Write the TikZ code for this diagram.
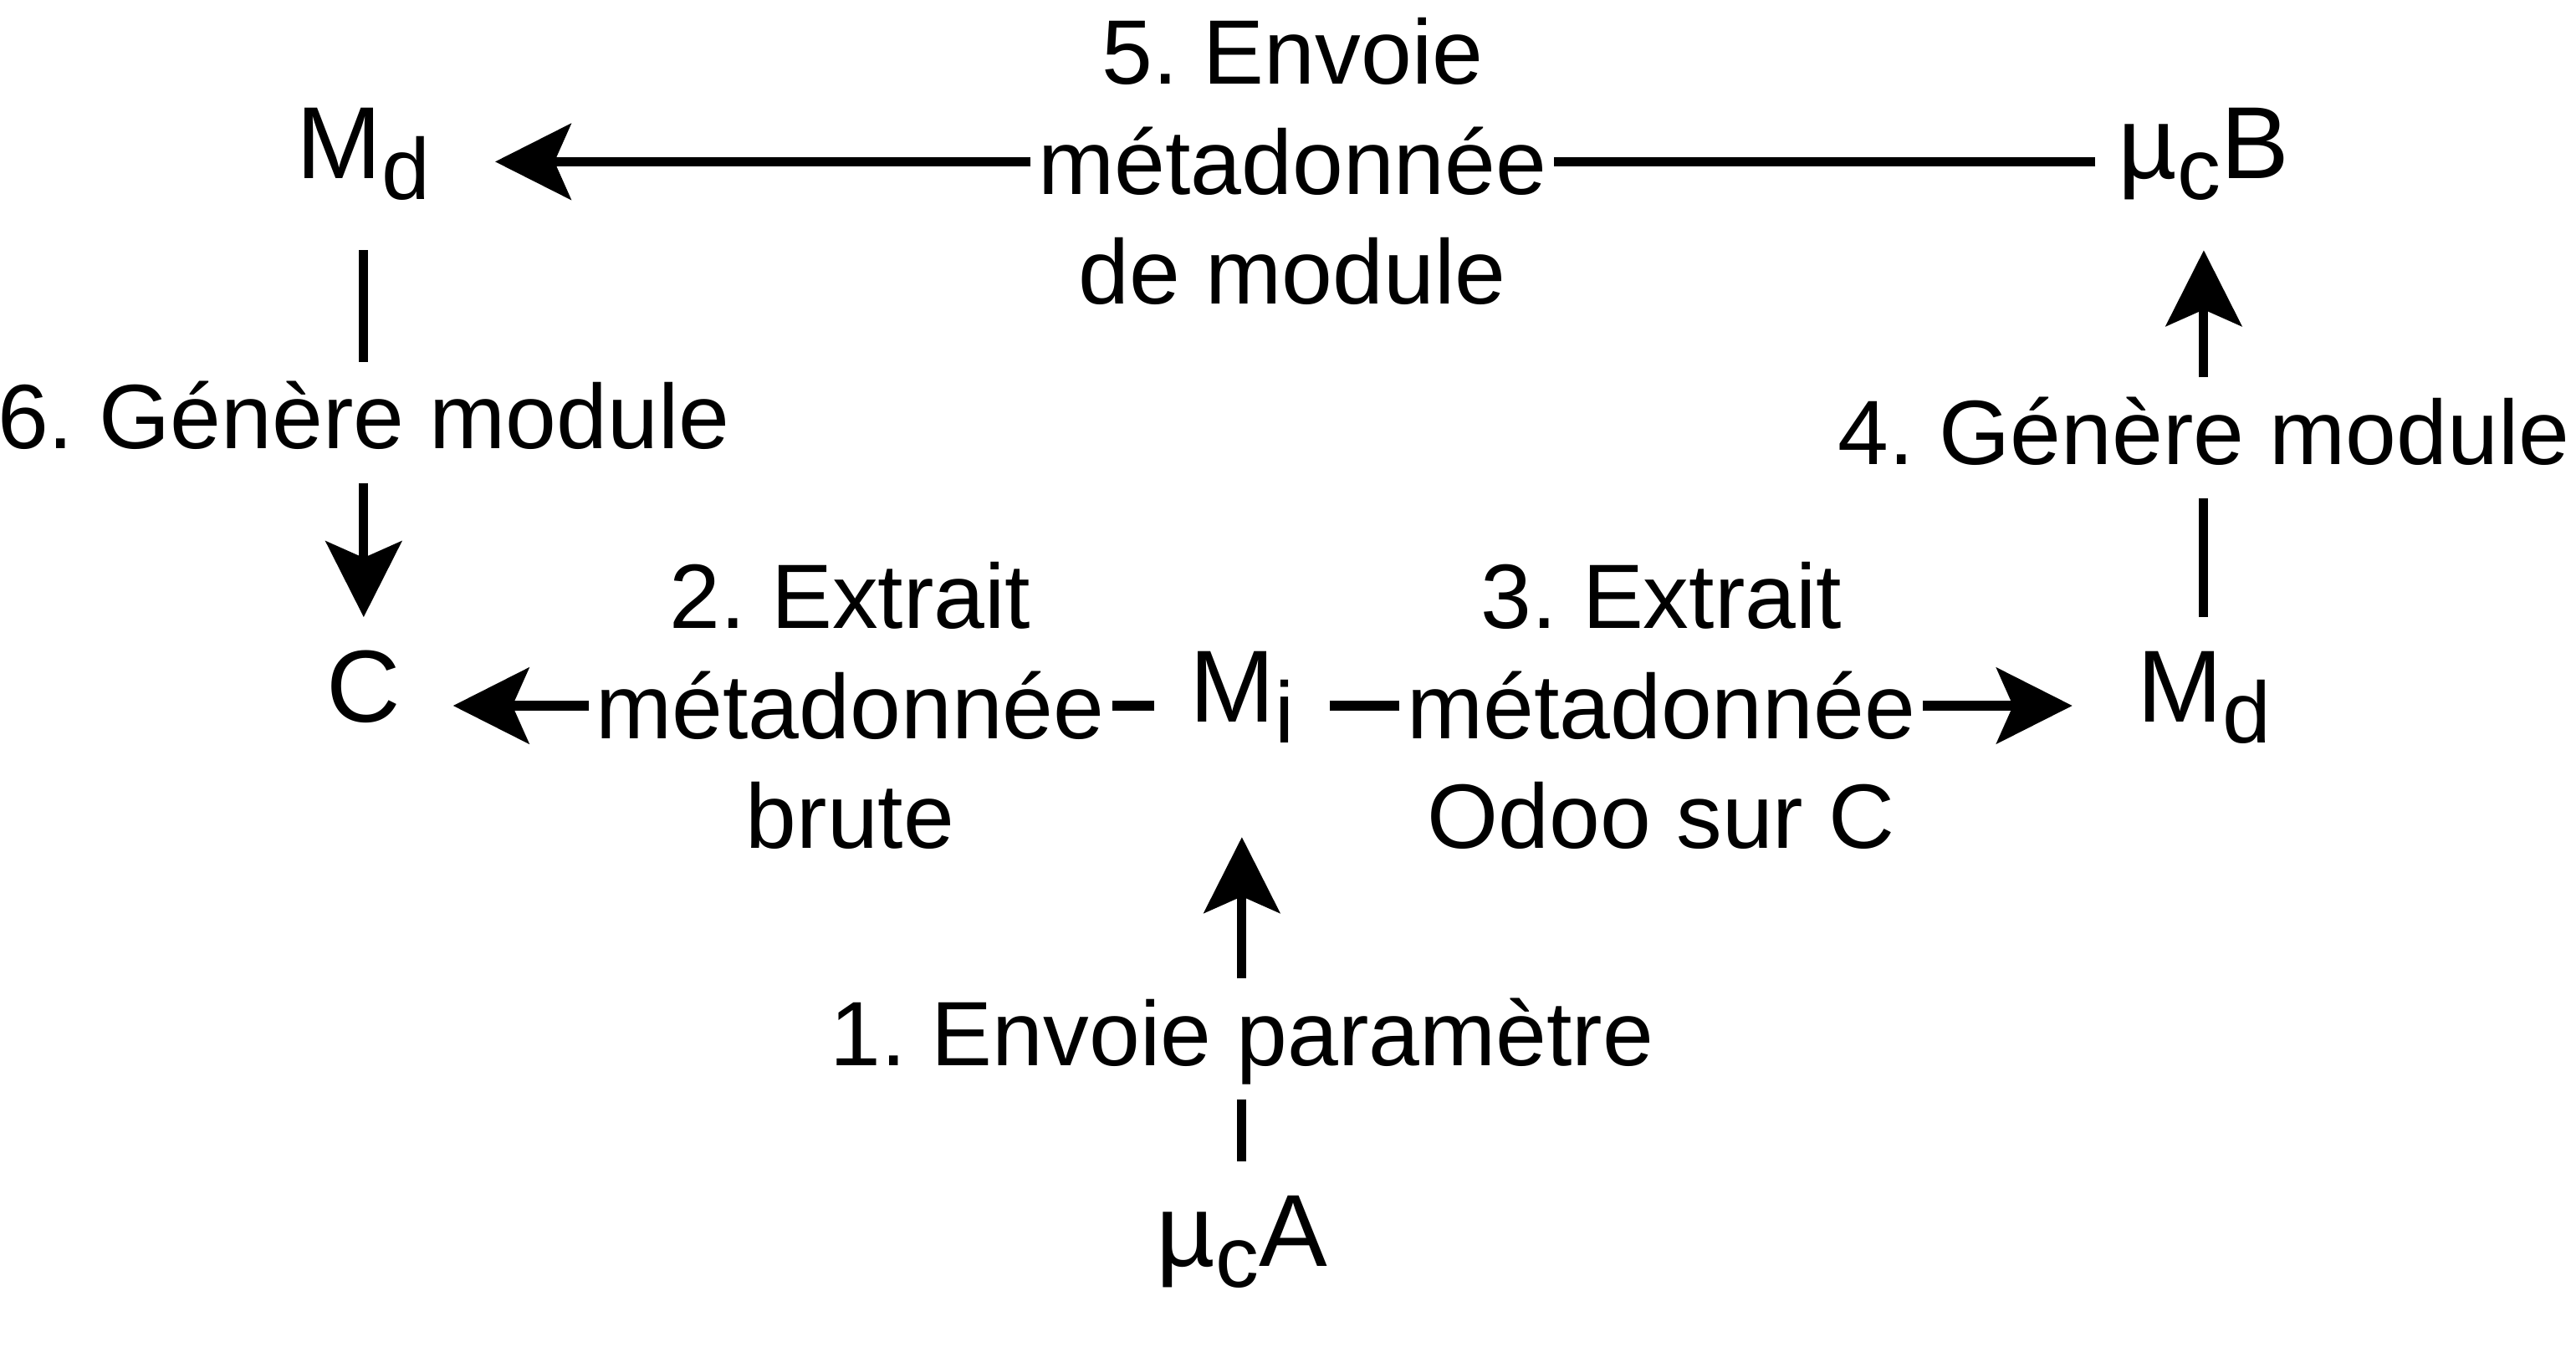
\documentclass[tikz,border=0pt]{standalone}
\usepackage{fontspec}
\setmainfont{Liberation Sans}
\frenchspacing
\usetikzlibrary{arrows.meta}
\newcommand{\ix}[1]{\raisebox{-0.127cm}{\fontsize{15pt}{15pt}\selectfont #1}}
\tikzset{
    ent/.style={font=\fontsize{17.7pt}{20pt}\selectfont, inner sep=0pt,
        text height=0.61cm, text depth=0.41cm, minimum width=1.03cm},
    lab/.style={font=\fontsize{15.8pt}{19pt}\selectfont, align=center,
        fill=white, inner xsep=0.5pt, inner ysep=0pt},
    vlab/.style={lab, anchor=base, text height=0.5cm, text depth=0.18cm},
    arr/.style={-{Stealth[length=0.46cm,width=0.46cm,inset=0.1cm]}}
}
\begin{document}
\begin{tikzpicture}[line width=1.6pt]
                \useasboundingbox (0,0) rectangle (15.64,8.176);

                \node[ent, minimum width=1.54cm] (mdt) at (2.208,7.194) {M\ix{d}};
                \node[ent, minimum width=1.26cm] (mub) at (13.38,7.194) {µ\ix{c}B};
                \node[ent] (c) at (2.208,3.89) {C};
                \node[ent, minimum width=1.01cm] (mi) at (7.54,3.89) {M\ix{i}};
                \node[ent, minimum width=1.54cm] (mdr) at (13.38,3.89) {M\ix{d}};
                \node[ent] (mua) at (7.54,0.586) {µ\ix{c}A};

                \node[lab] (l5) at (7.847,7.194) {5. Envoie\\métadonnée\\de module};
                \node[lab] (l2) at (5.162,3.89) {2. Extrait\\métadonnée\\brute};
                \node[lab] (l3) at (10.086,3.89) {3. Extrait\\métadonnée\\Odoo sur C};
                \node[vlab] (l6) at (2.208,5.451) {6. Génère module};
                \node[vlab] (l4) at (13.38,5.356) {4. Génère module};
                \node[vlab] (l1) at (7.54,1.706) {1. Envoie paramètre};

                \draw (mua) -- (l1);
                \draw[arr, shorten >=0.26cm] (l1) -- (mi);
                \draw (mi) -- (l2);
                \draw[arr] (l2) -- (c);
                \draw (mi) -- (l3);
                \draw[arr] (l3) -- (mdr);
                \draw (mdr) -- (l4);
                \draw[arr] (l4) -- (mub);
                \draw (mub) -- (l5);
                \draw[arr] (l5) -- (mdt);
                \draw (mdt) -- (l6);
                \draw[arr] (l6) -- (c);
            \end{tikzpicture}
\end{document}
